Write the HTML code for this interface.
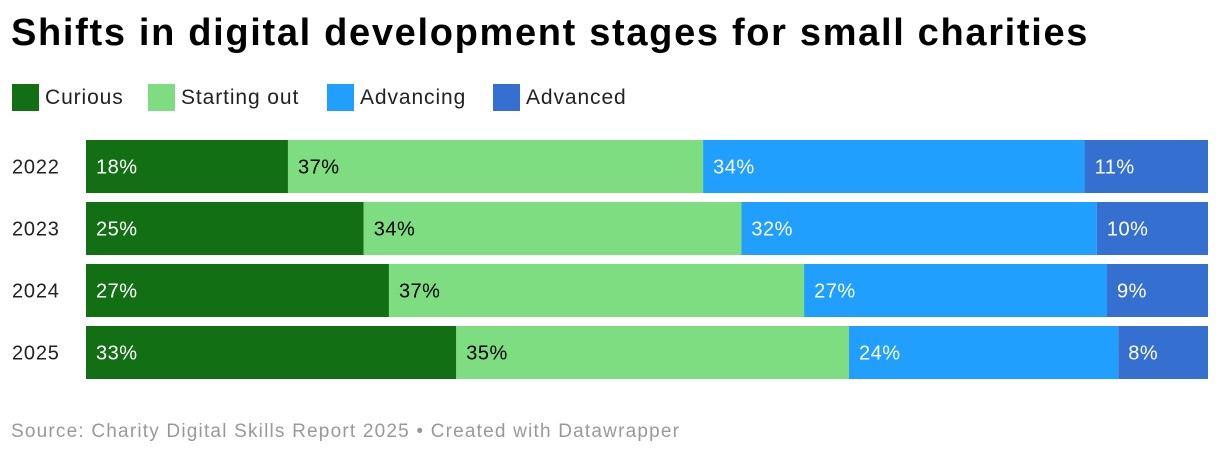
<!DOCTYPE html>
<html><head><meta charset="utf-8"><style>
body{margin:0;width:1220px;height:456px;background:#fff;font-family:"Liberation Sans",Arial,sans-serif;overflow:hidden;position:relative}
#title{position:absolute;left:11px;top:12px;font-size:38px;font-weight:bold;color:#000;letter-spacing:1.68px;white-space:nowrap}
.li{position:absolute;top:84px;display:flex;align-items:center;font-size:21px;color:#222;letter-spacing:0.9px;white-space:nowrap}
.sw{width:27px;height:27px;margin-right:6px}
#source{position:absolute;left:11px;top:421px;font-size:19px;color:#999;letter-spacing:1.2px;white-space:nowrap}
svg{position:absolute;left:0;top:0}
</style></head><body>
<div id="title">Shifts in digital development stages for small charities</div>
<div id="legend">
<div class="li" style="left:12px"><div class="sw" style="background:#136f14"></div>Curious</div>
<div class="li" style="left:148px"><div class="sw" style="background:#7edd80"></div>Starting out</div>
<div class="li" style="left:327px"><div class="sw" style="background:#209fff"></div>Advancing</div>
<div class="li" style="left:493px"><div class="sw" style="background:#3570d0"></div>Advanced</div>
</div>
<svg id="chart" width="1220" height="456"></svg>
<div id="source">Source: Charity Digital Skills Report 2025 • Created with Datawrapper</div>
<script>
const years=["2022","2023","2024","2025"];
const curious=[18,25,27,33];
const startingOut=[37,34,37,35];
const advancing=[34,32,27,24];
const advanced=[11,10,9,8];
const series=[curious,startingOut,advancing,advanced];
const seriesNames=["curious","starting-out","advancing","advanced"];
const colors=["#136f14","#7edd80","#209fff","#3570d0"];
const textColors=["#fff","#000","#fff","#fff"];
const svg=document.getElementById('chart');
const NS="http://www.w3.org/2000/svg";
const x0=86,x1=1208,top0=140,bandH=53,step=62;
function xScale(frac){return x0+frac*(x1-x0);}
function yScale(i){return top0+i*step;}
years.forEach((yr,i)=>{
  const total=series.reduce((s,a)=>s+a[i],0);
  const lab=document.createElementNS(NS,'text');
  lab.setAttribute('x',12);lab.setAttribute('y',yScale(i)+bandH/2+7);
  lab.setAttribute('font-size','20');lab.setAttribute('fill','#222');
  lab.setAttribute('letter-spacing','0.8');
  lab.textContent=yr;
  
  
  svg.appendChild(lab);
  let cum=0;
  series.forEach((arr,s)=>{
    const xa=xScale(cum/total);cum+=arr[i];const xb=xScale(cum/total);
    const r=document.createElementNS(NS,'rect');
    r.setAttribute('x',xa);r.setAttribute('y',yScale(i));
    r.setAttribute('width',xb-xa);r.setAttribute('height',bandH);
    r.setAttribute('fill',colors[s]);
    
    
    svg.appendChild(r);
    const t=document.createElementNS(NS,'text');
    t.setAttribute('x',xa+10);t.setAttribute('y',yScale(i)+bandH/2+7);
    t.setAttribute('font-size','20');t.setAttribute('fill',textColors[s]);
    t.setAttribute('letter-spacing','0.5');
    t.textContent=arr[i]+'%';
    
    
    svg.appendChild(t);
  });
});
</script>
</body></html>
